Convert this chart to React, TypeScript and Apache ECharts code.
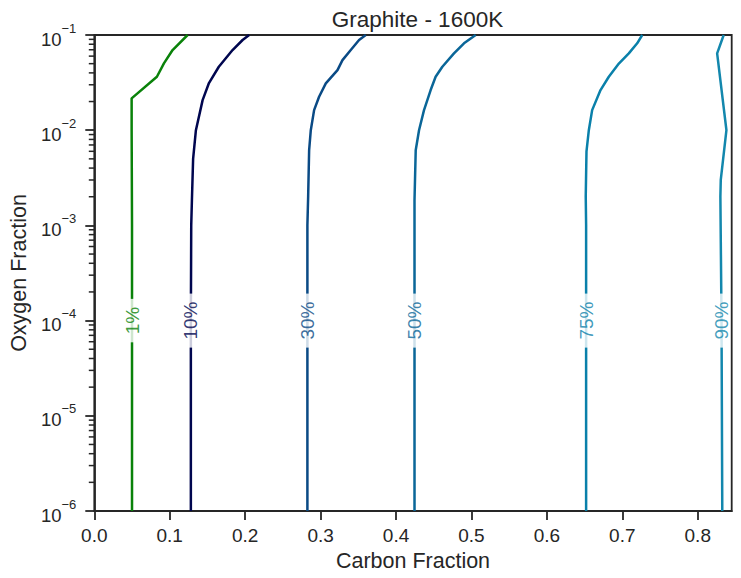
import React, { useEffect, useRef } from "react";
import * as echarts from "echarts";

// ---- data ----
const levelNames = ["1%", "10%", "30%", "50%", "75%", "90%"];
const levelColors = ["#0a820a", "#00064f", "#0a4a85", "#0a6698", "#0a80aa", "#1387ad"];

// contour lines: [carbon fraction, oxygen fraction]
const contour1: [number, number][] = [
  [0.05, 1e-6], [0.05, 1e-3], [0.0495, 1e-2], [0.0495, 0.0216], [0.083, 0.0364],
  [0.0923, 0.0503], [0.1038, 0.0695], [0.1237, 0.1],
];
const contour10: [number, number][] = [
  [0.128, 1e-6], [0.128, 1e-4], [0.1285, 1e-3], [0.1294, 1.83e-3], [0.131, 5e-3],
  [0.1347, 1e-2], [0.1436, 0.0207], [0.152, 0.0313], [0.1651, 0.0464], [0.1833, 0.0695],
  [0.1966, 0.0886], [0.2053, 0.1],
];
const contour30: [number, number][] = [
  [0.2825, 1e-6], [0.2825, 1e-3], [0.2835, 2e-3], [0.2848, 6.16e-3], [0.287, 1e-2],
  [0.2914, 0.01625], [0.298, 0.02245], [0.3069, 0.031], [0.3224, 0.0428], [0.329, 0.0545],
  [0.34, 0.0695], [0.351, 0.0886], [0.3599, 0.1],
];
const contour50: [number, number][] = [
  [0.4245, 1e-6], [0.4245, 1e-3], [0.4245, 1.83e-3], [0.4261, 6.16e-3], [0.4305, 1e-2],
  [0.4371, 0.01625], [0.4459, 0.0264], [0.4525, 0.0364], [0.4614, 0.0464], [0.4768, 0.0641],
  [0.4901, 0.0818], [0.5056, 0.1],
];
const contour75: [number, number][] = [
  [0.652, 1e-6], [0.652, 1e-3], [0.6515, 2e-3], [0.6525, 6e-3], [0.6556, 1e-2],
  [0.66, 0.01625], [0.6711, 0.0264], [0.6821, 0.0364], [0.6954, 0.0501], [0.7086, 0.0641],
  [0.7197, 0.0818], [0.7264, 0.1],
];
const contour90: [number, number][] = [
  [0.8325, 1e-6], [0.8315, 1e-4], [0.83, 2e-3], [0.8305, 3e-3], [0.838, 1e-2],
  [0.8257, 0.064], [0.8344, 0.1],
];
const contours = [contour1, contour10, contour30, contour50, contour75, contour90];

// label anchor on each contour (at oxygen fraction 1e-4)
const labelOxygen = 1e-4;
const labelCarbon = [0.05, 0.128, 0.2825, 0.4245, 0.652, 0.8315];

const xTicks = [0, 0.1, 0.2, 0.3, 0.4, 0.5, 0.6, 0.7, 0.8];
const yMinorTicks: number[] = [];
for (let e = -6; e <= -2; e++) {
  for (let k = 2; k <= 9; k++) yMinorTicks.push(k * Math.pow(10, e));
}

const FONT = "'Liberation Sans', Arial, Helvetica, sans-serif";
const INK = "#262626";

export default function App() {
  const ref = useRef<HTMLDivElement>(null);
  useEffect(() => {
    if (!ref.current) return;
    const chart = echarts.init(ref.current, null, { renderer: "svg" });

    const lineSeries = contours.map((c, i) => ({
      type: "line",
      name: levelNames[i],
      data: c,
      showSymbol: false,
      symbol: "none",
      z: 2,
      lineStyle: { color: levelColors[i], width: 2.5 },
      emphasis: { disabled: true },
    }));

    const labelSeries = levelNames.map((n, i) => ({
      type: "scatter",
      data: [[labelCarbon[i], labelOxygen]],
      symbolSize: 0,
      z: 5,
      silent: true,
      label: {
        show: true,
        position: "inside",
        formatter: n,
        rotate: 90,
        color: levelColors[i],
        fontSize: 19,
        fontFamily: FONT,
        lineHeight: 15,
        backgroundColor: "#ffffff",
        padding: [0, 8, 0, 8],
      },
    }));

    const minorTickSeries = {
      type: "custom",
      data: yMinorTicks.map((v) => [0, v]),
      silent: true,
      z: 10,
      renderItem: (_p: any, api: any) => {
        const pt = api.coord([0, api.value(1)]);
        return {
          type: "line",
          shape: { x1: pt[0] - 5.5, y1: pt[1], x2: pt[0], y2: pt[1] },
          style: { stroke: INK, lineWidth: 1.5 },
        };
      },
    };

    chart.setOption({
      animation: false,
      title: {
        text: "Graphite - 1600K",
        left: 412.5,
        top: 3,
        textAlign: "center",
        textStyle: { fontSize: 22.5, fontWeight: "normal", color: INK, fontFamily: FONT },
      },
      grid: {
        left: 93.3,
        right: 9.3,
        top: 35,
        bottom: 67,
        show: true,
        borderColor: INK,
        borderWidth: 1.8,
        backgroundColor: "transparent",
      },
      xAxis: {
        type: "value",
        min: 0,
        max: 0.845,
        interval: 0.1,
        name: "Carbon Fraction",
        nameLocation: "middle",
        nameGap: 38,
        nameTextStyle: { fontSize: 21.5, color: INK, fontFamily: FONT },
        splitLine: { show: false },
        axisLine: { show: true, lineStyle: { color: INK, width: 1.8 } },
        axisTick: {
          show: true,
          length: 9,
          lineStyle: { color: INK, width: 1.8 },
          customValues: xTicks,
        },
        axisLabel: {
          fontSize: 19,
          color: INK,
          fontFamily: FONT,
          margin: 15,
          customValues: xTicks,
          formatter: (v: number) => v.toFixed(1),
        },
      },
      yAxis: {
        type: "log",
        logBase: 10,
        min: 1e-6,
        max: 0.1,
        name: "Oxygen Fraction",
        nameLocation: "middle",
        nameGap: 64,
        nameTextStyle: { fontSize: 21.5, color: INK, fontFamily: FONT },
        splitLine: { show: false },
        axisLine: { show: true, lineStyle: { color: INK, width: 1.8 } },
        axisTick: { show: true, length: 9, lineStyle: { color: INK, width: 1.8 } },
        axisLabel: {
          color: INK,
          fontFamily: FONT,
          margin: 18,
          formatter: (v: number) => {
            const e = Math.round(Math.log10(v));
            return "{b|10}{s|" + (e < 0 ? "\u2212" + -e : String(e)) + "}";
          },
          rich: {
            b: { fontSize: 18.5, color: INK, fontFamily: FONT, padding: [8, 0, 0, 0], verticalAlign: "middle" },
            s: { fontSize: 13, color: INK, fontFamily: FONT, padding: [0, 0, 14, 0], verticalAlign: "middle" },
          },
        },
      },
      series: [...lineSeries, ...labelSeries, minorTickSeries],
    });

    return () => chart.dispose();
  }, []);

  return (
    <div
      ref={ref}
      style={{ position: "fixed", left: 0, top: 0, width: 741, height: 578, background: "#fff" }}
    />
  );
}
